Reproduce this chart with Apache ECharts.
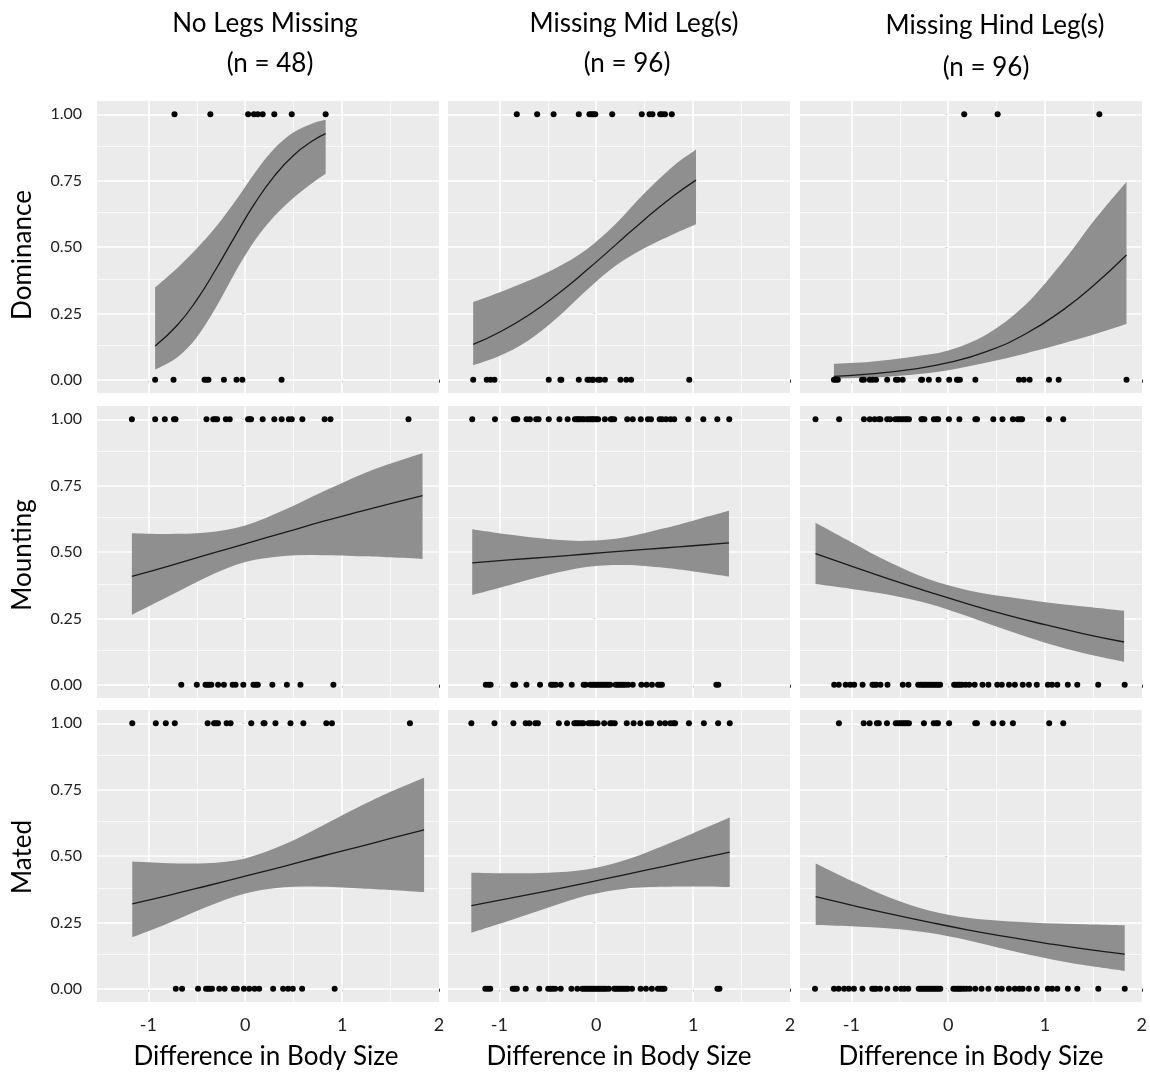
<!DOCTYPE html>
<html>
<head>
<meta charset="utf-8">
<script src="https://cdn.jsdelivr.net/npm/echarts@6/dist/echarts.min.js"></script>
<style>
html,body{margin:0;padding:0;background:#fff;}
#chart{width:1150px;height:1075px;}
</style>
</head>
<body>
<div id="chart"></div>
<script>
// ---------- Labels ----------
const colTitles = ['No Legs Missing', 'Missing Mid Leg(s)', 'Missing Hind Leg(s)'];
const colN = ['(n = 48)', '(n = 96)', '(n = 96)'];
const rowTitles = ['Dominance', 'Mounting', 'Mated'];
const xTitle = 'Difference in Body Size';
const xTickValues = [-1, 0, 1, 2];
const yTickValues = [0, 0.25, 0.5, 0.75, 1];

// ---------- Row 1: Dominance ----------
const domNoneOnes  = [-0.73, -0.36, 0.03, 0.09, 0.13, 0.18, 0.30, 0.48, 0.83];
const domNoneZeros = [-0.93, -0.74, -0.42, -0.40, -0.38, -0.22, -0.09, -0.03, 0.375];
const domNoneFitX  = [-0.93, -0.7, -0.5, -0.3, -0.1, 0.1, 0.3, 0.5, 0.7, 0.83];
const domNoneFit   = [0.127, 0.206, 0.301, 0.418, 0.544, 0.665, 0.767, 0.846, 0.901, 0.927];
const domNoneLo    = [0.038, 0.085, 0.160, 0.274, 0.407, 0.525, 0.616, 0.686, 0.743, 0.776];
const domNoneHi    = [0.348, 0.421, 0.494, 0.577, 0.674, 0.780, 0.871, 0.932, 0.966, 0.979];

const domMidOnes  = [-0.82, -0.61, -0.44, -0.18, -0.07, -0.05, -0.03, -0.01, 0.165, 0.47, 0.55, 0.58, 0.66, 0.68, 0.71, 0.78];
const domMidZeros = [-1.27, -1.13, -1.09, -1.05, -0.49, -0.37, -0.36, -0.18, -0.09, -0.07, -0.04, -0.03, 0.02, 0.04, 0.09, 0.25, 0.31, 0.36, 0.96];
const domMidFitX  = [-1.27, -1.0, -0.7, -0.4, -0.1, 0.2, 0.5, 0.8, 1.03];
const domMidFit   = [0.133, 0.179, 0.243, 0.322, 0.412, 0.508, 0.604, 0.693, 0.752];
const domMidLo    = [0.054, 0.089, 0.148, 0.234, 0.337, 0.429, 0.496, 0.549, 0.586];
const domMidHi    = [0.293, 0.329, 0.373, 0.424, 0.491, 0.587, 0.703, 0.806, 0.867];

const domHindOnes  = [0.165, 0.51, 1.56];
const domHindZeros = [-1.18, -1.16, -1.14, -0.89, -0.87, -0.81, -0.78, -0.745, -0.63, -0.54, -0.52, -0.47, -0.28, -0.27, -0.20, -0.10, 0.01, 0.09, 0.10, 0.12, 0.28, 0.73, 0.78, 0.84, 1.04, 1.14, 1.84];
const domHindFitX  = [-1.18, -0.8, -0.4, 0, 0.4, 0.8, 1.2, 1.5, 1.84];
const domHindFit   = [0.013, 0.022, 0.038, 0.064, 0.107, 0.173, 0.267, 0.355, 0.47];
const domHindLo    = [0.004, 0.008, 0.018, 0.036, 0.065, 0.099, 0.138, 0.170, 0.21];
const domHindHi    = [0.060, 0.068, 0.085, 0.110, 0.171, 0.283, 0.452, 0.597, 0.746];

// ---------- Row 2: Mounting ----------
const mntNoneOnes  = [-1.17, -0.93, -0.83, -0.735, -0.72, -0.40, -0.33, -0.31, -0.29, -0.20, -0.16, 0.03, 0.045, 0.06, 0.18, 0.30, 0.376, 0.45, 0.48, 0.59, 0.82, 0.88, 1.685];
const mntNoneZeros = [-0.66, -0.50, -0.41, -0.39, -0.37, -0.35, -0.28, -0.22, -0.13, -0.10, -0.02, 0.085, 0.11, 0.13, 0.28, 0.43, 0.57, 0.91];
const mntNoneFitX  = [-1.17, -0.8, -0.4, 0, 0.4, 0.8, 1.2, 1.5, 1.83];
const mntNoneFit   = [0.408, 0.446, 0.489, 0.531, 0.573, 0.615, 0.654, 0.682, 0.712];
const mntNoneLo    = [0.263, 0.331, 0.405, 0.462, 0.485, 0.488, 0.484, 0.480, 0.474];
const mntNoneHi    = [0.571, 0.568, 0.573, 0.600, 0.658, 0.727, 0.792, 0.833, 0.872];

const mntMidOnes  = [-1.28, -1.045, -0.85, -0.83, -0.815, -0.72, -0.685, -0.62, -0.595, -0.49, -0.38, -0.295, -0.22, -0.20, -0.185, -0.168, -0.144, -0.127, -0.096, -0.075, -0.055, -0.038, -0.024, 0, 0.02, 0.089, 0.15, 0.164, 0.185, 0.32, 0.377, 0.46, 0.534, 0.565, 0.654, 0.68, 0.72, 0.767, 0.805, 0.95, 1.105, 1.25, 1.373];
const mntMidZeros = [-1.14, -1.11, -1.09, -0.856, -0.836, -0.72, -0.58, -0.466, -0.445, -0.418, -0.366, -0.253, -0.13, -0.11, -0.062, -0.041, -0.02, 0, 0.02, 0.04, 0.062, 0.082, 0.103, 0.123, 0.144, 0.2, 0.22, 0.24, 0.26, 0.28, 0.30, 0.33, 0.377, 0.466, 0.52, 0.575, 0.637, 0.658, 0.678, 1.24, 1.26];
const mntMidFitX  = [-1.28, -0.9, -0.5, -0.1, 0.3, 0.7, 1.0, 1.37];
const mntMidFit   = [0.459, 0.470, 0.481, 0.4925, 0.504, 0.515, 0.5235, 0.534];
const mntMidLo    = [0.338, 0.375, 0.414, 0.4435, 0.451, 0.4405, 0.427, 0.408];
const mntMidHi    = [0.586, 0.566, 0.549, 0.542, 0.556, 0.589, 0.618, 0.655];

const mntHindOnes  = [-1.37, -1.126, -0.87, -0.81, -0.76, -0.715, -0.70, -0.63, -0.60, -0.546, -0.52, -0.496, -0.47, -0.445, -0.425, -0.405, -0.277, -0.263, -0.246, -0.148, -0.121, -0.104, 0.007, 0.115, 0.28, 0.297, 0.465, 0.56, 0.668, 0.718, 0.742, 0.762, 1.04, 1.187];
const mntHindZeros = [-1.177, -1.13, -1.059, -1.012, -0.971, -0.884, -0.782, -0.762, -0.742, -0.70, -0.627, -0.469, -0.411, -0.31, -0.283, -0.263, -0.243, -0.223, -0.202, -0.182, -0.162, -0.142, -0.121, -0.101, -0.084, 0.061, 0.081, 0.101, 0.121, 0.142, 0.179, 0.216, 0.273, 0.354, 0.415, 0.506, 0.553, 0.627, 0.688, 0.769, 0.833, 0.914, 1.029, 1.072, 1.126, 1.234, 1.332, 1.548, 1.821];
const mntHindFitX  = [-1.37, -1.0, -0.6, -0.2, 0.2, 0.6, 1.0, 1.4, 1.815];
const mntHindFit   = [0.494, 0.447, 0.397, 0.350, 0.305, 0.263, 0.226, 0.192, 0.161];
const mntHindLo    = [0.379, 0.361, 0.338, 0.305, 0.258, 0.206, 0.158, 0.119, 0.087];
const mntHindHi    = [0.610, 0.537, 0.460, 0.397, 0.356, 0.331, 0.311, 0.295, 0.279];

// ---------- Row 3: Mated ----------
const matNoneOnes  = [-1.166, -0.923, -0.82, -0.727, -0.388, -0.322, -0.302, -0.281, -0.192, -0.151, 0.062, 0.189, 0.199, 0.312, 0.467, 0.60, 0.837, 0.895, 1.70];
const matNoneZeros = [-0.717, -0.652, -0.487, -0.405, -0.384, -0.364, -0.343, -0.268, -0.213, -0.117, -0.086, -0.014, 0.041, 0.096, 0.144, 0.288, 0.391, 0.443, 0.491, 0.587, 0.923];
const matNoneFitX  = [-1.166, -0.8, -0.4, 0, 0.4, 0.8, 1.2, 1.5, 1.846];
const matNoneFit   = [0.320, 0.351, 0.387, 0.424, 0.461, 0.500, 0.537, 0.566, 0.598];
const matNoneLo    = [0.194, 0.246, 0.308, 0.359, 0.382, 0.384, 0.378, 0.372, 0.364];
const matNoneHi    = [0.479, 0.473, 0.473, 0.491, 0.543, 0.615, 0.690, 0.742, 0.795];

const matMidOnes  = [-1.289, -1.05, -0.855, -0.728, -0.69, -0.629, -0.602, -0.386, -0.301, -0.226, -0.209, -0.192, -0.174, -0.15, -0.133, -0.079, -0.062, -0.044, -0.024, 0.014, 0.082, 0.144, 0.164, 0.191, 0.315, 0.386, 0.455, 0.533, 0.567, 0.656, 0.711, 0.766, 0.797, 0.814, 0.957, 1.111, 1.258, 1.378];
const matMidZeros = [-1.145, -1.118, -1.094, -0.862, -0.841, -0.82, -0.728, -0.588, -0.496, -0.472, -0.451, -0.424, -0.366, -0.256, -0.195, -0.144, -0.123, -0.103, -0.082, -0.062, -0.041, -0.021, 0, 0.021, 0.041, 0.062, 0.082, 0.103, 0.130, 0.185, 0.205, 0.226, 0.246, 0.267, 0.287, 0.308, 0.328, 0.369, 0.458, 0.513, 0.574, 0.636, 0.663, 0.684, 0.704, 1.251, 1.272];
const matMidFitX  = [-1.289, -0.9, -0.5, -0.1, 0.3, 0.7, 1.0, 1.378];
const matMidFit   = [0.313, 0.340, 0.369, 0.399, 0.430, 0.461, 0.485, 0.515];
const matMidLo    = [0.211, 0.256, 0.305, 0.351, 0.377, 0.384, 0.385, 0.383];
const matMidHi    = [0.437, 0.435, 0.437, 0.449, 0.485, 0.540, 0.586, 0.645];

const matHindOnes  = [-1.128, -0.872, -0.811, -0.736, -0.716, -0.632, -0.541, -0.514, -0.49, -0.466, -0.446, -0.426, -0.405, -0.25, -0.149, -0.122, -0.105, 0.01, 0.28, 0.297, 0.466, 0.561, 0.669, 1.044, 1.189];
const matHindZeros = [-1.375, -1.179, -1.132, -1.074, -1.027, -0.973, -0.885, -0.784, -0.764, -0.743, -0.703, -0.628, -0.541, -0.486, -0.453, -0.412, -0.304, -0.284, -0.264, -0.243, -0.223, -0.203, -0.182, -0.162, -0.142, -0.122, -0.101, -0.081, 0.054, 0.074, 0.095, 0.115, 0.135, 0.162, 0.189, 0.223, 0.280, 0.345, 0.416, 0.507, 0.554, 0.628, 0.689, 0.736, 0.77, 0.834, 0.916, 1.03, 1.074, 1.128, 1.236, 1.334, 1.551, 1.824];
const matHindFitX  = [-1.368, -1.0, -0.6, -0.2, 0.2, 0.6, 1.0, 1.4, 1.824];
const matHindFit   = [0.347, 0.315, 0.282, 0.251, 0.222, 0.196, 0.172, 0.150, 0.130];
const matHindLo    = [0.240, 0.235, 0.227, 0.211, 0.183, 0.148, 0.116, 0.089, 0.067];
const matHindHi    = [0.472, 0.407, 0.343, 0.295, 0.267, 0.254, 0.247, 0.243, 0.239];

// ---------- Layout / style ----------
const FONT = 'Lato, "Open Sans", sans-serif';
const X_MIN = -1.53, X_MAX = 2.0, Y_MIN = -0.05, Y_MAX = 1.05;
const xMajorGrid = [-1, 0, 1], xMinorGrid = [-0.5, 0.5, 1.5];
const yMajorGrid = [0, 0.25, 0.5, 0.75, 1], yMinorGrid = [0.125, 0.375, 0.625, 0.875];
const gridLefts = [97, 448, 800], gridTops = [101, 406, 710], GW = 342, GH = 292;
const PANEL_BG = '#ebebeb', BAND = '#8f8f8f';

const panels = [
  {row:0, col:0, ones:domNoneOnes, zeros:domNoneZeros, fx:domNoneFitX, fit:domNoneFit, lo:domNoneLo, hi:domNoneHi},
  {row:0, col:1, ones:domMidOnes,  zeros:domMidZeros,  fx:domMidFitX,  fit:domMidFit,  lo:domMidLo,  hi:domMidHi},
  {row:0, col:2, ones:domHindOnes, zeros:domHindZeros, fx:domHindFitX, fit:domHindFit, lo:domHindLo, hi:domHindHi},
  {row:1, col:0, ones:mntNoneOnes, zeros:mntNoneZeros, fx:mntNoneFitX, fit:mntNoneFit, lo:mntNoneLo, hi:mntNoneHi},
  {row:1, col:1, ones:mntMidOnes,  zeros:mntMidZeros,  fx:mntMidFitX,  fit:mntMidFit,  lo:mntMidLo,  hi:mntMidHi},
  {row:1, col:2, ones:mntHindOnes, zeros:mntHindZeros, fx:mntHindFitX, fit:mntHindFit, lo:mntHindLo, hi:mntHindHi},
  {row:2, col:0, ones:matNoneOnes, zeros:matNoneZeros, fx:matNoneFitX, fit:matNoneFit, lo:matNoneLo, hi:matNoneHi},
  {row:2, col:1, ones:matMidOnes,  zeros:matMidZeros,  fx:matMidFitX,  fit:matMidFit,  lo:matMidLo,  hi:matMidHi},
  {row:2, col:2, ones:matHindOnes, zeros:matHindZeros, fx:matHindFitX, fit:matHindFit, lo:matHindLo, hi:matHindHi}
];

// Catmull-Rom -> cubic bezier path segments through pixel points
function bezierSegs(pts) {
  let s = '';
  for (let i = 0; i < pts.length - 1; i++) {
    const p0 = pts[i - 1] || pts[i], p1 = pts[i], p2 = pts[i + 1], p3 = pts[i + 2] || pts[i + 1];
    const c1 = [p1[0] + (p2[0] - p0[0]) / 6, p1[1] + (p2[1] - p0[1]) / 6];
    const c2 = [p2[0] - (p3[0] - p1[0]) / 6, p2[1] - (p3[1] - p1[1]) / 6];
    s += ' C' + c1[0] + ' ' + c1[1] + ' ' + c2[0] + ' ' + c2[1] + ' ' + p2[0] + ' ' + p2[1];
  }
  return s;
}

const grids = [], xAxes = [], yAxes = [], series = [];
panels.forEach((p, i) => {
  grids.push({left: gridLefts[p.col], top: gridTops[p.row], width: GW, height: GH,
    show: true, backgroundColor: PANEL_BG, borderWidth: 0});
  xAxes.push({gridIndex: i, type: 'value', min: X_MIN, max: X_MAX,
    axisLine: {show: false}, splitLine: {show: false},
    axisTick: {show: true, length: 3, lineStyle: {color: '#333', width: 1}, customValues: xTickValues},
    axisLabel: {show: p.row === 2, customValues: xTickValues, fontFamily: FONT, fontSize: 18, color: '#222', margin: 14}});
  yAxes.push({gridIndex: i, type: 'value', min: Y_MIN, max: Y_MAX,
    axisLine: {show: false}, splitLine: {show: false},
    axisTick: {show: true, length: 3, lineStyle: {color: '#333', width: 1}, customValues: yTickValues},
    axisLabel: {show: p.col === 0, customValues: yTickValues, formatter: v => v.toFixed(2),
      fontFamily: FONT, fontSize: 16, color: '#222', margin: 15}});

  const major = {color: '#ffffff', width: 1.5, type: 'solid', opacity: 1};
  const minor = {color: '#ffffff', width: 0.7, type: 'solid', opacity: 1};
  const ml = [];
  xMinorGrid.forEach(v => ml.push({xAxis: v, lineStyle: minor}));
  yMinorGrid.forEach(v => ml.push({yAxis: v, lineStyle: minor}));
  xMajorGrid.forEach(v => ml.push({xAxis: v, lineStyle: major}));
  yMajorGrid.forEach(v => ml.push({yAxis: v, lineStyle: major}));
  series.push({type: 'line', xAxisIndex: i, yAxisIndex: i, data: [], z: 1, silent: true,
    markLine: {z: 1, zlevel: 0, silent: true, symbol: ['none', 'none'], label: {show: false}, animation: false, data: ml}});

  series.push({type: 'custom', xAxisIndex: i, yAxisIndex: i, z: 2, silent: true, data: [[0, 0]],
    renderItem: (params, api) => {
      const up = p.fx.map((x, k) => api.coord([x, p.hi[k]]));
      const dn = p.fx.map((x, k) => api.coord([x, p.lo[k]])).reverse();
      const d = 'M' + up[0][0] + ' ' + up[0][1] + bezierSegs(up) +
                ' L' + dn[0][0] + ' ' + dn[0][1] + bezierSegs(dn) + ' Z';
      return {type: 'path', shape: {pathData: d}, style: {fill: BAND, stroke: null}};
    }});

  series.push({type: 'line', xAxisIndex: i, yAxisIndex: i, z: 3, silent: true,
    data: p.fx.map((x, k) => [x, p.fit[k]]), smooth: true, symbol: 'none',
    lineStyle: {color: '#1a1a1a', width: 1.3}});

  series.push({type: 'scatter', xAxisIndex: i, yAxisIndex: i, z: 4, silent: true,
    data: p.ones.map(x => [x, 1]).concat(p.zeros.map(x => [x, 0])),
    symbol: 'circle', symbolSize: 6, itemStyle: {color: '#000', opacity: 1}});
});

const graphics = [];
const titleX1 = [265, 634, 995], titleX2 = [270, 627, 986];
const titleY1 = [24, 24, 26], titleY2 = [64, 64, 68];
colTitles.forEach((t, c) => {
  graphics.push({type: 'text', x: titleX1[c], y: titleY1[c], silent: true,
    style: {text: t, font: '26px ' + FONT, fill: '#000', textAlign: 'center', textVerticalAlign: 'middle'}});
  graphics.push({type: 'text', x: titleX2[c], y: titleY2[c], silent: true,
    style: {text: colN[c], font: '26px ' + FONT, fill: '#000', textAlign: 'center', textVerticalAlign: 'middle'}});
});
const rowY = [255, 555, 857];
rowTitles.forEach((t, r) => {
  graphics.push({type: 'text', x: 23, y: rowY[r], rotation: Math.PI / 2, silent: true,
    style: {text: t, font: '26px ' + FONT, fill: '#000', textAlign: 'center', textVerticalAlign: 'middle'}});
});
const xtX = [266, 619, 971];
xtX.forEach(x => {
  graphics.push({type: 'text', x: x, y: 1057, silent: true,
    style: {text: xTitle, font: '26px ' + FONT, fill: '#000', textAlign: 'center', textVerticalAlign: 'middle'}});
});

const chart = echarts.init(document.getElementById('chart'), null, {renderer: 'canvas'});
chart.setOption({
  animation: false,
  backgroundColor: '#ffffff',
  grid: grids, xAxis: xAxes, yAxis: yAxes, series: series,
  graphic: graphics
});
</script>
</body>
</html>
